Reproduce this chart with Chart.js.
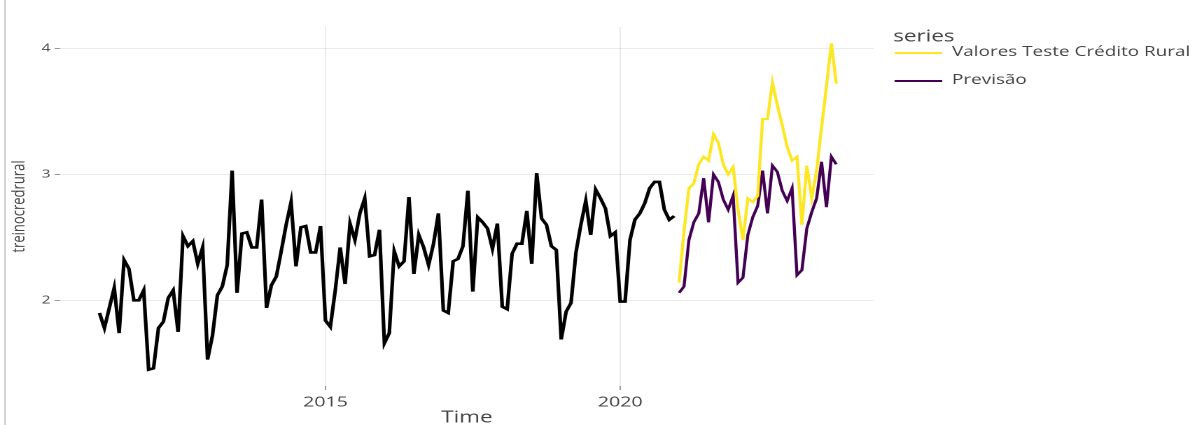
<!DOCTYPE html>
<html>
<head>
<meta charset="utf-8">
<script src="https://cdn.jsdelivr.net/npm/chart.js@4.4.1/dist/chart.umd.min.js"></script>
<style>
html, body { margin: 0; padding: 0; background: #fff; overflow: hidden; }
#edge { position: absolute; left: 4px; top: 0; width: 2px; height: 425px; background: #d4d4d4; }
/* the reference is stretched sideways, so draw narrow and widen it */
#wrap { position: absolute; left: 0; top: 0; width: 855px; height: 425px; transform: scaleX(1.4); transform-origin: 0 0; }
</style>
</head>
<body>
<div id="edge"></div>
<div id="wrap"><canvas id="tsCanvas" width="855" height="425"></canvas></div>
<script>
// training series, monthly from Mar 2011
const trainStart = 2011 + 2 / 12;
const trainValues = [
    1.90, 1.78, 1.94, 2.10, 1.74, 2.32, 2.25, 2.00, 2.00, 2.08,
    1.45, 1.46, 1.78, 1.83, 2.02, 2.08, 1.75, 2.51, 2.43, 2.47,
    2.29, 2.42, 1.53, 1.72, 2.04, 2.11, 2.28, 3.03, 2.06, 2.53,
    2.54, 2.42, 2.42, 2.80, 1.94, 2.12, 2.19, 2.39, 2.60, 2.78,
    2.27, 2.58, 2.59, 2.38, 2.38, 2.59, 1.84, 1.79, 2.08, 2.42,
    2.13, 2.61, 2.48, 2.69, 2.81, 2.35, 2.36, 2.56, 1.66, 1.74,
    2.39, 2.27, 2.31, 2.82, 2.21, 2.52, 2.42, 2.28, 2.45, 2.69,
    1.92, 1.90, 2.31, 2.33, 2.43, 2.87, 2.07, 2.66, 2.62, 2.57,
    2.41, 2.61, 1.95, 1.93, 2.37, 2.45, 2.45, 2.71, 2.29, 3.01,
    2.65, 2.60, 2.43, 2.40, 1.69, 1.91, 1.98, 2.38, 2.60, 2.79,
    2.52, 2.88, 2.81, 2.73, 2.51, 2.54, 1.99, 1.99, 2.48, 2.64,
    2.69, 2.77, 2.89, 2.94, 2.94, 2.72, 2.64, 2.67
];

// test period, monthly from Jan 2021
const testStart = 2021;
const testValues = [
    2.14, 2.55, 2.89, 2.93, 3.08, 3.14, 3.11, 3.32, 3.25, 3.08,
    3.00, 3.06, 2.72, 2.48, 2.81, 2.78, 2.83, 3.44, 3.44, 3.73,
    3.55, 3.39, 3.22, 3.11, 3.14, 2.60, 3.07, 2.81, 3.03, 3.37,
    3.70, 4.04, 3.72
];
const forecastValues = [
    2.06, 2.11, 2.48, 2.62, 2.69, 2.97, 2.62, 3.00, 2.94, 2.80,
    2.72, 2.83, 2.14, 2.18, 2.52, 2.66, 2.75, 3.03, 2.69, 3.07,
    3.02, 2.87, 2.79, 2.89, 2.20, 2.24, 2.57, 2.70, 2.81, 3.10,
    2.74, 3.14, 3.08
];

const xTicks = [2015, 2020];
const yTicks = [2, 3, 4];
const seriesNames = ["Valores Teste Crédito Rural", "Previsão"];
const seriesColors = ["#FDE725", "#440154"];

function monthly(start, values) {
    return values.map((v, i) => ({ x: start + i / 12, y: v }));
}

Chart.defaults.font.family = '"Open Sans", sans-serif';
Chart.defaults.color = "#444";

// legend drawn to the right of the plot, like the plotly one
const sideLegend = {
    id: "sideLegend",
    afterDraw(chart) {
        const ctx = chart.ctx;
        ctx.save();
        ctx.textBaseline = "middle";
        ctx.fillStyle = "#444";
        ctx.font = '16px "Open Sans"';
        ctx.fillText("series", 638, 37);
        ctx.font = '13.5px "Open Sans"';
        const rows = [53, 81];
        seriesNames.forEach((name, i) => {
            ctx.strokeStyle = seriesColors[i];
            ctx.lineWidth = 2;
            ctx.beginPath();
            ctx.moveTo(639, rows[i]);
            ctx.lineTo(673, rows[i]);
            ctx.stroke();
            ctx.fillStyle = "#444";
            ctx.fillText(name, 680, rows[i] - 1);
        });
        ctx.restore();
    }
};

const tsChart = new Chart(document.getElementById("tsCanvas"), {
    type: "line",
    data: {
        datasets: [
            {
                label: "treinocredrural",
                data: monthly(trainStart, trainValues),
                borderColor: "#000",
                borderWidth: 2.6
            },
            {
                label: seriesNames[0],
                data: monthly(testStart, testValues),
                borderColor: seriesColors[0],
                borderWidth: 2.2
            },
            {
                label: seriesNames[1],
                data: monthly(testStart, forecastValues),
                borderColor: seriesColors[1],
                borderWidth: 2.2
            }
        ]
    },
    options: {
        responsive: false,
        animation: false,
        devicePixelRatio: 2,
        elements: { point: { radius: 0 }, line: { tension: 0 } },
        layout: { padding: { top: 27, right: 231, left: 0, bottom: 0 } },
        plugins: { legend: { display: false }, tooltip: { enabled: false } },
        scales: {
            x: {
                type: "linear",
                min: 2010.5,
                max: 2024.3,
                afterBuildTicks: s => { s.ticks = xTicks.map(v => ({ value: v })); },
                afterFit: s => { s.height = 39; },
                ticks: { font: { size: 14 }, padding: 4, color: "#444", callback: v => String(v) },
                grid: { color: "rgba(0,0,0,0.08)", tickColor: "#999", tickLength: 4 },
                border: { display: false },
                title: { display: true, text: "Time", font: { size: 16, lineHeight: 0.875 }, color: "#444", padding: { top: 0, bottom: 0 } }
            },
            y: {
                min: 1.32,
                max: 4.17,
                afterBuildTicks: s => { s.ticks = yTicks.map(v => ({ value: v })); },
                afterFit: s => { s.width = 43; },
                ticks: { font: { size: 11 }, padding: 3, color: "#444" },
                grid: { color: "rgba(0,0,0,0.08)", tickColor: "#999", tickLength: 4 },
                border: { display: false },
                title: { display: true, text: "treinocredrural", font: { size: 13 }, color: "#444", padding: { top: 6, bottom: 0 } }
            }
        }
    },
    plugins: [sideLegend]
});
</script>
</body>
</html>
